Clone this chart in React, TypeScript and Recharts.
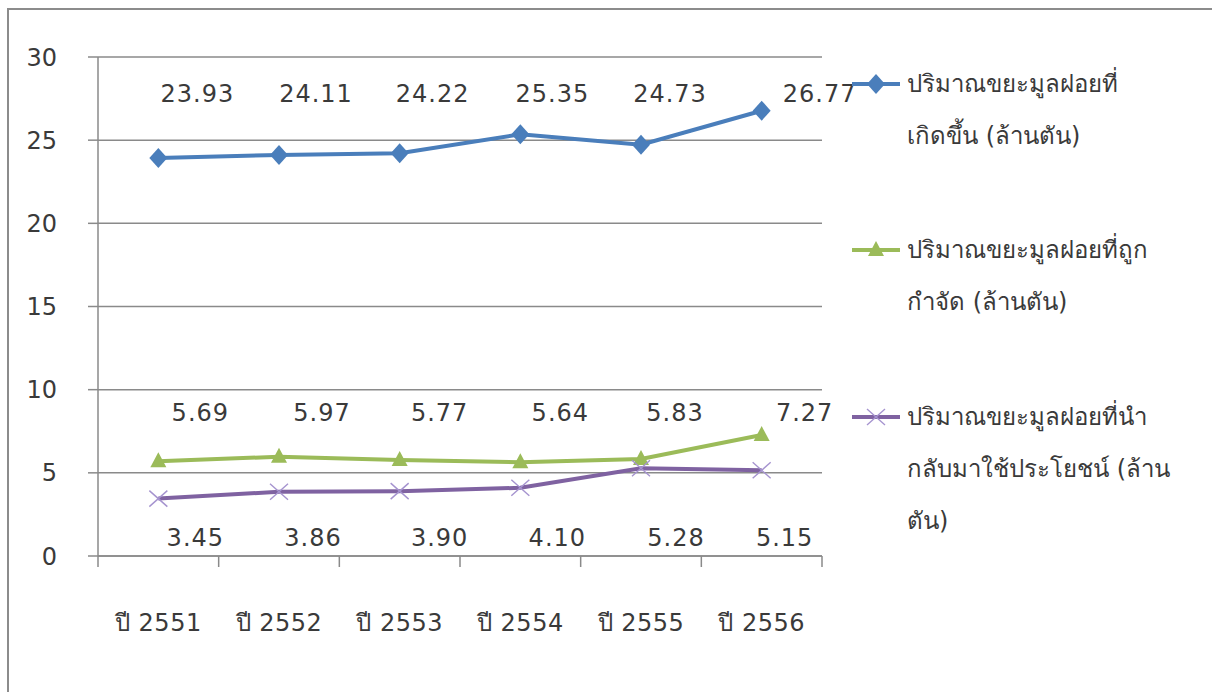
import React from 'react'
import { LineChart, Line, XAxis, YAxis, CartesianGrid, LabelList } from 'recharts'

// categories (Thai Buddhist-era years)
const years = ['ปี 2551', 'ปี 2552', 'ปี 2553', 'ปี 2554', 'ปี 2555', 'ปี 2556']

// series values (million tonnes)
const generated = [23.93, 24.11, 24.22, 25.35, 24.73, 26.77]
const disposed = [5.69, 5.97, 5.77, 5.64, 5.83, 7.27]
const recycled = [3.45, 3.86, 3.9, 4.1, 5.28, 5.15]

const yTicks = [0, 5, 10, 15, 20, 25, 30]

// legend names, split the way the original wraps them
const generatedName = ['ปริมาณขยะมูลฝอยที่', 'เกิดขึ้น (ล้านตัน)']
const disposedName = ['ปริมาณขยะมูลฝอยที่ถูก', 'กำจัด (ล้านตัน)']
const recycledName = ['ปริมาณขยะมูลฝอยที่นำ', 'กลับมาใช้ประโยชน์ (ล้าน', 'ตัน)']

const data = years.map((year, i) => ({
  year,
  generated: generated[i],
  disposed: disposed[i],
  recycled: recycled[i],
}))

// layout
const W = 1212
const H = 692
const PLOT_LEFT = 98
const PLOT_RIGHT = 822
const PLOT_TOP = 57
const PLOT_BOTTOM = 556
const HALF_BAND = (PLOT_RIGHT - PLOT_LEFT) / years.length / 2
const FONT = '"DejaVu Sans", "Noto Sans", sans-serif'
const TEXT = '#3a3a3a'
const GRID = '#8a8a8a'

const BLUE = '#4a7ebb'
const GREEN = '#9bbb59'
const PURPLE = '#7f62a1'
const PURPLE_MARK = '#a593cf'

// label placement (pixel nudges relative to each point)
const blueNudge = [39, 37, 33, 32, 29, 58]
const greenNudge = [42, 43, 40, 40, 34, 43]
const purpleNudge = [37, 34, 40, 37, 35, 23]

const Diamond = ({ cx, cy }: any) => (
  <polygon points={`${cx},${cy - 10} ${cx + 9},${cy} ${cx},${cy + 10} ${cx - 9},${cy}`} fill={BLUE} />
)
const Triangle = ({ cx, cy }: any) => (
  <polygon points={`${cx},${cy - 9} ${cx + 8},${cy + 6} ${cx - 8},${cy + 6}`} fill={GREEN} />
)
const Cross = ({ cx, cy }: any) => (
  <g stroke={PURPLE_MARK} strokeWidth={1.4}>
    <line x1={cx - 9} y1={cy - 8} x2={cx + 9} y2={cy + 8} />
    <line x1={cx - 9} y1={cy + 8} x2={cx + 9} y2={cy - 8} />
  </g>
)

const makeLabel = (rowY: number, nudge: number[]) => (props: any) => {
  const { x, index, value } = props
  return (
    <text
      x={x + nudge[index]}
      y={rowY}
      dy={9}
      textAnchor="middle"
      fontSize={24}
      fontFamily={FONT}
      letterSpacing={1}
      fill={TEXT}
    >
      {Number(value).toFixed(2)}
    </text>
  )
}

const XTick = (props: any) => {
  const { x, payload, index } = props
  return (
    <g>
      <line x1={x - HALF_BAND} y1={PLOT_BOTTOM} x2={x - HALF_BAND} y2={PLOT_BOTTOM + 11} stroke={GRID} strokeWidth={1.5} />
      {index === years.length - 1 && (
        <line x1={x + HALF_BAND} y1={PLOT_BOTTOM} x2={x + HALF_BAND} y2={PLOT_BOTTOM + 11} stroke={GRID} strokeWidth={1.5} />
      )}
      <text x={x} y={PLOT_BOTTOM + 66} dy={9} textAnchor="middle" fontSize={24} fontFamily={FONT} letterSpacing={0.5} fill={TEXT}>
        {payload.value}
      </text>
    </g>
  )
}

const legendItems = [
  { lines: generatedName, color: BLUE, Mark: Diamond, gap: 62 },
  { lines: disposedName, color: GREEN, Mark: Triangle, gap: 63 },
  { lines: recycledName, color: PURPLE, Mark: Cross, gap: 0 },
]

const LegendBox = () => (
  <div
    style={{
      position: 'absolute',
      left: 850,
      top: 58,
      width: 360,
      fontFamily: FONT,
      fontSize: 24,
      color: TEXT,
    }}
  >
    {legendItems.map((item, i) => (
      <div key={i} style={{ display: 'flex', alignItems: 'flex-start', marginBottom: item.gap }}>
        <svg width={52} height={52} style={{ flex: 'none' }}>
          <line x1={2} y1={26} x2={50} y2={26} stroke={item.color} strokeWidth={4} />
          <item.Mark cx={26} cy={26} />
        </svg>
        <div style={{ marginLeft: 5, lineHeight: '52px', whiteSpace: 'nowrap' }}>
          {item.lines.map((l, j) => (
            <div key={j}>{l}</div>
          ))}
        </div>
      </div>
    ))}
  </div>
)

export default function App() {
  return (
    <div style={{ position: 'absolute', left: 0, top: 0, width: W, height: H, background: '#fff', overflow: 'hidden' }}>
      <div
        style={{
          position: 'absolute',
          left: 7,
          top: 8,
          width: W,
          height: H,
          borderTop: '2px solid #8c8c8c',
          borderLeft: '2px solid #8c8c8c',
        }}
      />
      <LineChart
        width={W}
        height={H}
        data={data}
        margin={{ top: PLOT_TOP, right: W - PLOT_RIGHT, bottom: H - PLOT_BOTTOM - 60, left: 8 }}
        style={{ position: 'absolute', left: 0, top: 0 }}
      >
        <CartesianGrid vertical={false} stroke={GRID} strokeWidth={1.5} />
        <XAxis
          dataKey="year"
          height={60}
          padding={{ left: HALF_BAND, right: HALF_BAND }}
          axisLine={{ stroke: GRID, strokeWidth: 1.5 }}
          tickLine={false}
          tick={<XTick />}
          interval={0}
        />
        <YAxis
          width={90}
          domain={[0, 30]}
          ticks={yTicks}
          interval={0}
          axisLine={{ stroke: GRID, strokeWidth: 1.5 }}
          tickLine={{ stroke: GRID, strokeWidth: 1.5 }}
          tickSize={10}
          tickMargin={31}
          tick={{ fontSize: 24, fontFamily: FONT, fill: TEXT }}
        />
        <Line dataKey="generated" stroke={BLUE} strokeWidth={4} dot={<Diamond />} activeDot={false} isAnimationActive={false}>
          <LabelList dataKey="generated" content={makeLabel(93, blueNudge)} />
        </Line>
        <Line dataKey="disposed" stroke={GREEN} strokeWidth={4} dot={<Triangle />} activeDot={false} isAnimationActive={false}>
          <LabelList dataKey="disposed" content={makeLabel(412, greenNudge)} />
        </Line>
        <Line dataKey="recycled" stroke={PURPLE} strokeWidth={4} dot={<Cross />} activeDot={false} isAnimationActive={false}>
          <LabelList dataKey="recycled" content={makeLabel(537, purpleNudge)} />
        </Line>
      </LineChart>
      <LegendBox />
    </div>
  )
}
